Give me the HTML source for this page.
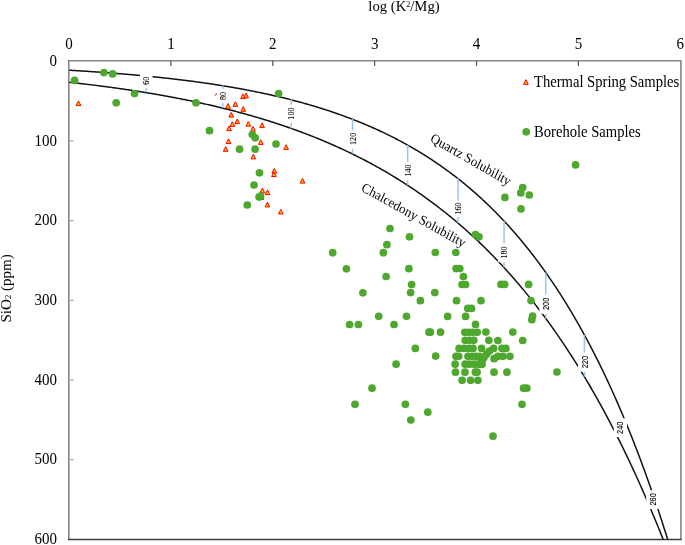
<!DOCTYPE html><html><head><meta charset="utf-8"><style>html,body{margin:0;padding:0;background:#fff;}svg{display:block;}text{font-family:"Liberation Serif",serif;fill:#000;}svg{will-change:transform;}</style></head><body>
<svg width="685" height="545" viewBox="0 0 685 545">
<rect width="685" height="545" fill="#fff"/>

<path d="M68.80,539.40V60.80H680.90V539.40" stroke="#858585" stroke-width="1.6" fill="none" stroke-linejoin="miter"/>
<path d="M68.00,539.40H681.70" stroke="#3c3c3c" stroke-width="1.5" fill="none"/>
<g stroke="#555" stroke-width="1.2" fill="none">
<path d="M170.88,60.80V66.00"/>
<path d="M272.76,60.80V66.00"/>
<path d="M374.64,60.80V66.00"/>
<path d="M476.52,60.80V66.00"/>
<path d="M578.40,60.80V66.00"/>
</g>
<g stroke="#a0a0a0" stroke-width="1.1" fill="none">
<path d="M68.80,140.90H73.60"/>
<path d="M68.80,220.60H73.60"/>
<path d="M68.80,300.30H73.60"/>
<path d="M68.80,380.00H73.60"/>
<path d="M68.80,459.70H73.60"/>
</g>
<g stroke="#111" stroke-width="1.5" fill="none">
<path d="M69.30,70.23 L70.32,70.29 L71.34,70.35 L72.36,70.41 L73.38,70.47 L74.39,70.53 L75.41,70.59 L76.43,70.65 L77.45,70.71 L78.47,70.78 L79.49,70.84 L80.51,70.90 L81.53,70.97 L82.54,71.03 L83.56,71.09 L84.58,71.16 L85.60,71.22 L86.62,71.29 L87.64,71.36 L88.66,71.42 L89.68,71.49 L90.69,71.56 L91.71,71.63 L92.73,71.70 L93.75,71.77 L94.77,71.84 L95.79,71.91 L96.81,71.98 L97.83,72.05 L98.85,72.12 L99.86,72.19 L100.88,72.26 L101.90,72.34 L102.92,72.41 L103.94,72.48 L104.96,72.56 L105.98,72.63 L107.00,72.71 L108.01,72.79 L109.03,72.86 L110.05,72.94 L111.07,73.02 L112.09,73.10 L113.11,73.18 L114.13,73.25 L115.15,73.33 L116.16,73.42 L117.18,73.50 L118.20,73.58 L119.22,73.66 L120.24,73.74 L121.26,73.83 L122.28,73.91 L123.30,73.99 L124.32,74.08 L125.33,74.16 L126.35,74.25 L127.37,74.34 L128.39,74.43 L129.41,74.51 L130.43,74.60 L131.45,74.69 L132.47,74.78 L133.48,74.87 L134.50,74.96 L135.52,75.05 L136.54,75.15 L137.56,75.24 L138.58,75.33 L139.60,75.43 L140.62,75.52 L141.63,75.62 L142.65,75.71 L143.67,75.81 L144.69,75.91 L145.71,76.01 L146.73,76.10 L147.75,76.20 L148.77,76.30 L149.79,76.40 L150.80,76.51 L151.82,76.61 L152.84,76.71 L153.86,76.81 L154.88,76.92 L155.90,77.02 L156.92,77.13 L157.94,77.24 L158.95,77.34 L159.97,77.45 L160.99,77.56 L162.01,77.67 L163.03,77.78 L164.05,77.89 L165.07,78.00 L166.09,78.12 L167.10,78.23 L168.12,78.34 L169.14,78.46 L170.16,78.57 L171.18,78.69 L172.20,78.81 L173.22,78.92 L174.24,79.04 L175.26,79.16 L176.27,79.28 L177.29,79.40 L178.31,79.53 L179.33,79.65 L180.35,79.77 L181.37,79.90 L182.39,80.02 L183.41,80.15 L184.42,80.28 L185.44,80.41 L186.46,80.53 L187.48,80.66 L188.50,80.80 L189.52,80.93 L190.54,81.06 L191.56,81.19 L192.57,81.33 L193.59,81.46 L194.61,81.60 L195.63,81.74 L196.65,81.87 L197.67,82.01 L198.69,82.15 L199.71,82.29 L200.73,82.44 L201.74,82.58 L202.76,82.72 L203.78,82.87 L204.80,83.01 L205.82,83.16 L206.84,83.31 L207.86,83.46 L208.88,83.61 L209.89,83.76 L210.91,83.91 L211.93,84.06 L212.95,84.22 L213.97,84.37 L214.99,84.53 L216.01,84.69 L217.03,84.84 L218.04,85.00 L219.06,85.16 L220.08,85.32 L221.10,85.49 L222.12,85.65 L223.14,85.82 L224.16,85.98 L225.18,86.15 L226.20,86.32 L227.21,86.49 L228.23,86.66 L229.25,86.83 L230.27,87.00 L231.29,87.18 L232.31,87.35 L233.33,87.53 L234.35,87.71 L235.36,87.89 L236.38,88.07 L237.40,88.25 L238.42,88.43 L239.44,88.61 L240.46,88.80 L241.48,88.99 L242.50,89.17 L243.51,89.36 L244.53,89.55 L245.55,89.75 L246.57,89.94 L247.59,90.13 L248.61,90.33 L249.63,90.53 L250.65,90.72 L251.67,90.92 L252.68,91.12 L253.70,91.33 L254.72,91.53 L255.74,91.74 L256.76,91.94 L257.78,92.15 L258.80,92.36 L259.82,92.57 L260.83,92.78 L261.85,93.00 L262.87,93.21 L263.89,93.43 L264.91,93.65 L265.93,93.87 L266.95,94.09 L267.97,94.31 L268.98,94.54 L270.00,94.76 L271.02,94.99 L272.04,95.22 L273.06,95.45 L274.08,95.68 L275.10,95.92 L276.12,96.15 L277.14,96.39 L278.15,96.63 L279.17,96.87 L280.19,97.11 L281.21,97.35 L282.23,97.60 L283.25,97.84 L284.27,98.09 L285.29,98.34 L286.30,98.59 L287.32,98.85 L288.34,99.10 L289.36,99.36 L290.38,99.62 L291.40,99.88 L292.42,100.14 L293.44,100.41 L294.45,100.67 L295.47,100.94 L296.49,101.21 L297.51,101.48 L298.53,101.76 L299.55,102.03 L300.57,102.31 L301.59,102.59 L302.61,102.87 L303.62,103.15 L304.64,103.44 L305.66,103.72 L306.68,104.01 L307.70,104.30 L308.72,104.60 L309.74,104.89 L310.76,105.19 L311.77,105.49 L312.79,105.79 L313.81,106.09 L314.83,106.40 L315.85,106.70 L316.87,107.01 L317.89,107.33 L318.91,107.64 L319.92,107.95 L320.94,108.27 L321.96,108.59 L322.98,108.91 L324.00,109.24 L325.02,109.57 L326.04,109.90 L327.06,110.23 L328.08,110.56 L329.09,110.90 L330.11,111.23 L331.13,111.57 L332.15,111.92 L333.17,112.26 L334.19,112.61 L335.21,112.96 L336.23,113.31 L337.24,113.67 L338.26,114.02 L339.28,114.38 L340.30,114.74 L341.32,115.11 L342.34,115.48 L343.36,115.85 L344.38,116.22 L345.39,116.59 L346.41,116.97 L347.43,117.35 L348.45,117.73 L349.47,118.12 L350.49,118.50 L351.51,118.89 L352.53,119.29 L353.55,119.68 L354.56,120.08 L355.58,120.48 L356.60,120.89 L357.62,121.29 L358.64,121.70 L359.66,122.11 L360.68,122.53 L361.70,122.95 L362.71,123.37 L363.73,123.79 L364.75,124.22 L365.77,124.65 L366.79,125.08 L367.81,125.51 L368.83,125.95 L369.85,126.39 L370.86,126.84 L371.88,127.29 L372.90,127.74 L373.92,128.19 L374.94,128.65 L375.96,129.11 L376.98,129.57 L378.00,130.04 L379.02,130.51 L380.03,130.98 L381.05,131.45 L382.07,131.93 L383.09,132.41 L384.11,132.90 L385.13,133.39 L386.15,133.88 L387.17,134.38 L388.18,134.88 L389.20,135.38 L390.22,135.89 L391.24,136.39 L392.26,136.91 L393.28,137.42 L394.30,137.94 L395.32,138.47 L396.33,138.99 L397.35,139.53 L398.37,140.06 L399.39,140.60 L400.41,141.14 L401.43,141.69 L402.45,142.23 L403.47,142.79 L404.49,143.34 L405.50,143.91 L406.52,144.47 L407.54,145.04 L408.56,145.61 L409.58,146.19 L410.60,146.77 L411.62,147.35 L412.64,147.94 L413.65,148.53 L414.67,149.13 L415.69,149.73 L416.71,150.33 L417.73,150.94 L418.75,151.55 L419.77,152.17 L420.79,152.79 L421.80,153.42 L422.82,154.05 L423.84,154.68 L424.86,155.32 L425.88,155.96 L426.90,156.61 L427.92,157.26 L428.94,157.92 L429.96,158.58 L430.97,159.24 L431.99,159.91 L433.01,160.59 L434.03,161.26 L435.05,161.95 L436.07,162.64 L437.09,163.33 L438.11,164.03 L439.12,164.73 L440.14,165.44 L441.16,166.15 L442.18,166.86 L443.20,167.59 L444.22,168.31 L445.24,169.05 L446.26,169.78 L447.27,170.52 L448.29,171.27 L449.31,172.02 L450.33,172.78 L451.35,173.54 L452.37,174.31 L453.39,175.08 L454.41,175.86 L455.43,176.65 L456.44,177.43 L457.46,178.23 L458.48,179.03 L459.50,179.83 L460.52,180.65 L461.54,181.46 L462.56,182.28 L463.58,183.11 L464.59,183.94 L465.61,184.78 L466.63,185.63 L467.65,186.48 L468.67,187.34 L469.69,188.20 L470.71,189.07 L471.73,189.94 L472.74,190.82 L473.76,191.71 L474.78,192.60 L475.80,193.50 L476.82,194.40 L477.84,195.31 L478.86,196.23 L479.88,197.15 L480.90,198.08 L481.91,199.02 L482.93,199.96 L483.95,200.91 L484.97,201.87 L485.99,202.83 L487.01,203.80 L488.03,204.77 L489.05,205.75 L490.06,206.74 L491.08,207.74 L492.10,208.74 L493.12,209.75 L494.14,210.76 L495.16,211.79 L496.18,212.82 L497.20,213.85 L498.21,214.90 L499.23,215.95 L500.25,217.01 L501.27,218.07 L502.29,219.15 L503.31,220.23 L504.33,221.32 L505.35,222.41 L506.37,223.51 L507.38,224.62 L508.40,225.74 L509.42,226.87 L510.44,228.00 L511.46,229.14 L512.48,230.29 L513.50,231.45 L514.52,232.61 L515.53,233.79 L516.55,234.97 L517.57,236.16 L518.59,237.35 L519.61,238.56 L520.63,239.77 L521.65,240.99 L522.67,242.22 L523.68,243.46 L524.70,244.71 L525.72,245.97 L526.74,247.23 L527.76,248.50 L528.78,249.79 L529.80,251.08 L530.82,252.38 L531.84,253.68 L532.85,255.00 L533.87,256.33 L534.89,257.66 L535.91,259.01 L536.93,260.36 L537.95,261.72 L538.97,263.10 L539.99,264.48 L541.00,265.87 L542.02,267.27 L543.04,268.68 L544.06,270.10 L545.08,271.53 L546.10,272.97 L547.12,274.42 L548.14,275.88 L549.15,277.35 L550.17,278.83 L551.19,280.32 L552.21,281.82 L553.23,283.33 L554.25,284.85 L555.27,286.38 L556.29,287.92 L557.31,289.47 L558.32,291.04 L559.34,292.61 L560.36,294.20 L561.38,295.79 L562.40,297.40 L563.42,299.01 L564.44,300.64 L565.46,302.28 L566.47,303.93 L567.49,305.59 L568.51,307.27 L569.53,308.95 L570.55,310.65 L571.57,312.36 L572.59,314.08 L573.61,315.81 L574.62,317.55 L575.64,319.31 L576.66,321.07 L577.68,322.85 L578.70,324.64 L579.72,326.45 L580.74,328.27 L581.76,330.09 L582.78,331.94 L583.79,333.79 L584.81,335.66 L585.83,337.54 L586.85,339.43 L587.87,341.33 L588.89,343.25 L589.91,345.18 L590.93,347.13 L591.94,349.09 L592.96,351.06 L593.98,353.04 L595.00,355.04 L596.02,357.05 L597.04,359.08 L598.06,361.12 L599.08,363.17 L600.09,365.24 L601.11,367.33 L602.13,369.42 L603.15,371.53 L604.17,373.66 L605.19,375.80 L606.21,377.95 L607.23,380.12 L608.25,382.31 L609.26,384.51 L610.28,386.72 L611.30,388.95 L612.32,391.20 L613.34,393.46 L614.36,395.73 L615.38,398.02 L616.40,400.33 L617.41,402.65 L618.43,404.99 L619.45,407.35 L620.47,409.72 L621.49,412.11 L622.51,414.51 L623.53,416.93 L624.55,419.37 L625.56,421.82 L626.58,424.29 L627.60,426.78 L628.62,429.28 L629.64,431.81 L630.66,434.34 L631.68,436.90 L632.70,439.47 L633.72,442.07 L634.73,444.67 L635.75,447.30 L636.77,449.95 L637.79,452.61 L638.81,455.29 L639.83,457.99 L640.85,460.71 L641.87,463.45 L642.88,466.20 L643.90,468.98 L644.92,471.77 L645.94,474.59 L646.96,477.42 L647.98,480.27 L649.00,483.14 L650.02,486.03 L651.03,488.94 L652.05,491.87 L653.07,494.82 L654.09,497.79 L655.11,500.79 L656.13,503.80 L657.15,506.83 L658.17,509.88 L659.19,512.96 L660.20,516.05 L661.22,519.17 L662.24,522.31 L663.26,525.47 L664.28,528.65 L665.30,531.85 L666.32,535.08 L667.34,538.32 L667.80,539.40"/>
<path d="M69.30,82.27 L70.32,82.38 L71.34,82.49 L72.36,82.60 L73.38,82.72 L74.39,82.83 L75.41,82.95 L76.43,83.06 L77.45,83.18 L78.47,83.29 L79.49,83.41 L80.51,83.53 L81.53,83.65 L82.54,83.77 L83.56,83.89 L84.58,84.01 L85.60,84.13 L86.62,84.25 L87.64,84.37 L88.66,84.49 L89.68,84.62 L90.69,84.74 L91.71,84.87 L92.73,84.99 L93.75,85.12 L94.77,85.25 L95.79,85.37 L96.81,85.50 L97.83,85.63 L98.85,85.76 L99.86,85.89 L100.88,86.02 L101.90,86.16 L102.92,86.29 L103.94,86.42 L104.96,86.56 L105.98,86.69 L107.00,86.83 L108.01,86.96 L109.03,87.10 L110.05,87.24 L111.07,87.38 L112.09,87.52 L113.11,87.66 L114.13,87.80 L115.15,87.94 L116.16,88.08 L117.18,88.22 L118.20,88.37 L119.22,88.51 L120.24,88.66 L121.26,88.80 L122.28,88.95 L123.30,89.10 L124.32,89.25 L125.33,89.40 L126.35,89.55 L127.37,89.70 L128.39,89.85 L129.41,90.00 L130.43,90.15 L131.45,90.31 L132.47,90.46 L133.48,90.62 L134.50,90.78 L135.52,90.93 L136.54,91.09 L137.56,91.25 L138.58,91.41 L139.60,91.57 L140.62,91.74 L141.63,91.90 L142.65,92.06 L143.67,92.23 L144.69,92.39 L145.71,92.56 L146.73,92.73 L147.75,92.89 L148.77,93.06 L149.79,93.23 L150.80,93.40 L151.82,93.58 L152.84,93.75 L153.86,93.92 L154.88,94.10 L155.90,94.27 L156.92,94.45 L157.94,94.63 L158.95,94.80 L159.97,94.98 L160.99,95.16 L162.01,95.35 L163.03,95.53 L164.05,95.71 L165.07,95.90 L166.09,96.08 L167.10,96.27 L168.12,96.45 L169.14,96.64 L170.16,96.83 L171.18,97.02 L172.20,97.21 L173.22,97.41 L174.24,97.60 L175.26,97.79 L176.27,97.99 L177.29,98.19 L178.31,98.38 L179.33,98.58 L180.35,98.78 L181.37,98.98 L182.39,99.19 L183.41,99.39 L184.42,99.59 L185.44,99.80 L186.46,100.00 L187.48,100.21 L188.50,100.42 L189.52,100.63 L190.54,100.84 L191.56,101.05 L192.57,101.27 L193.59,101.48 L194.61,101.70 L195.63,101.91 L196.65,102.13 L197.67,102.35 L198.69,102.57 L199.71,102.79 L200.73,103.01 L201.74,103.24 L202.76,103.46 L203.78,103.69 L204.80,103.92 L205.82,104.14 L206.84,104.37 L207.86,104.61 L208.88,104.84 L209.89,105.07 L210.91,105.31 L211.93,105.54 L212.95,105.78 L213.97,106.02 L214.99,106.26 L216.01,106.50 L217.03,106.74 L218.04,106.99 L219.06,107.23 L220.08,107.48 L221.10,107.73 L222.12,107.98 L223.14,108.23 L224.16,108.48 L225.18,108.73 L226.20,108.99 L227.21,109.24 L228.23,109.50 L229.25,109.76 L230.27,110.02 L231.29,110.28 L232.31,110.54 L233.33,110.81 L234.35,111.07 L235.36,111.34 L236.38,111.61 L237.40,111.88 L238.42,112.15 L239.44,112.42 L240.46,112.70 L241.48,112.97 L242.50,113.25 L243.51,113.53 L244.53,113.81 L245.55,114.09 L246.57,114.38 L247.59,114.66 L248.61,114.95 L249.63,115.24 L250.65,115.53 L251.67,115.82 L252.68,116.11 L253.70,116.41 L254.72,116.70 L255.74,117.00 L256.76,117.30 L257.78,117.60 L258.80,117.90 L259.82,118.21 L260.83,118.51 L261.85,118.82 L262.87,119.13 L263.89,119.44 L264.91,119.75 L265.93,120.07 L266.95,120.38 L267.97,120.70 L268.98,121.02 L270.00,121.34 L271.02,121.66 L272.04,121.99 L273.06,122.31 L274.08,122.64 L275.10,122.97 L276.12,123.30 L277.14,123.64 L278.15,123.97 L279.17,124.31 L280.19,124.65 L281.21,124.99 L282.23,125.33 L283.25,125.68 L284.27,126.02 L285.29,126.37 L286.30,126.72 L287.32,127.07 L288.34,127.43 L289.36,127.78 L290.38,128.14 L291.40,128.50 L292.42,128.86 L293.44,129.22 L294.45,129.59 L295.47,129.96 L296.49,130.33 L297.51,130.70 L298.53,131.07 L299.55,131.45 L300.57,131.82 L301.59,132.20 L302.61,132.58 L303.62,132.97 L304.64,133.35 L305.66,133.74 L306.68,134.13 L307.70,134.52 L308.72,134.92 L309.74,135.31 L310.76,135.71 L311.77,136.11 L312.79,136.51 L313.81,136.92 L314.83,137.33 L315.85,137.73 L316.87,138.15 L317.89,138.56 L318.91,138.98 L319.92,139.39 L320.94,139.81 L321.96,140.24 L322.98,140.66 L324.00,141.09 L325.02,141.52 L326.04,141.95 L327.06,142.38 L328.08,142.82 L329.09,143.26 L330.11,143.70 L331.13,144.14 L332.15,144.59 L333.17,145.04 L334.19,145.49 L335.21,145.94 L336.23,146.40 L337.24,146.86 L338.26,147.32 L339.28,147.78 L340.30,148.25 L341.32,148.71 L342.34,149.18 L343.36,149.66 L344.38,150.13 L345.39,150.61 L346.41,151.09 L347.43,151.58 L348.45,152.06 L349.47,152.55 L350.49,153.04 L351.51,153.54 L352.53,154.03 L353.55,154.53 L354.56,155.03 L355.58,155.54 L356.60,156.05 L357.62,156.56 L358.64,157.07 L359.66,157.59 L360.68,158.10 L361.70,158.63 L362.71,159.15 L363.73,159.68 L364.75,160.21 L365.77,160.74 L366.79,161.28 L367.81,161.81 L368.83,162.36 L369.85,162.90 L370.86,163.45 L371.88,164.00 L372.90,164.55 L373.92,165.11 L374.94,165.67 L375.96,166.23 L376.98,166.79 L378.00,167.36 L379.02,167.93 L380.03,168.51 L381.05,169.09 L382.07,169.67 L383.09,170.25 L384.11,170.84 L385.13,171.43 L386.15,172.02 L387.17,172.62 L388.18,173.22 L389.20,173.82 L390.22,174.43 L391.24,175.04 L392.26,175.65 L393.28,176.27 L394.30,176.88 L395.32,177.51 L396.33,178.13 L397.35,178.76 L398.37,179.40 L399.39,180.03 L400.41,180.67 L401.43,181.32 L402.45,181.96 L403.47,182.61 L404.49,183.27 L405.50,183.92 L406.52,184.59 L407.54,185.25 L408.56,185.92 L409.58,186.59 L410.60,187.26 L411.62,187.94 L412.64,188.63 L413.65,189.31 L414.67,190.00 L415.69,190.70 L416.71,191.39 L417.73,192.10 L418.75,192.80 L419.77,193.51 L420.79,194.22 L421.80,194.94 L422.82,195.66 L423.84,196.38 L424.86,197.11 L425.88,197.84 L426.90,198.58 L427.92,199.32 L428.94,200.06 L429.96,200.81 L430.97,201.56 L431.99,202.32 L433.01,203.08 L434.03,203.84 L435.05,204.61 L436.07,205.39 L437.09,206.16 L438.11,206.94 L439.12,207.73 L440.14,208.52 L441.16,209.31 L442.18,210.11 L443.20,210.91 L444.22,211.72 L445.24,212.53 L446.26,213.35 L447.27,214.17 L448.29,214.99 L449.31,215.82 L450.33,216.65 L451.35,217.49 L452.37,218.33 L453.39,219.18 L454.41,220.03 L455.43,220.89 L456.44,221.75 L457.46,222.61 L458.48,223.48 L459.50,224.36 L460.52,225.24 L461.54,226.12 L462.56,227.01 L463.58,227.90 L464.59,228.80 L465.61,229.71 L466.63,230.61 L467.65,231.53 L468.67,232.44 L469.69,233.37 L470.71,234.30 L471.73,235.23 L472.74,236.17 L473.76,237.11 L474.78,238.06 L475.80,239.01 L476.82,239.97 L477.84,240.93 L478.86,241.90 L479.88,242.88 L480.90,243.86 L481.91,244.84 L482.93,245.83 L483.95,246.83 L484.97,247.83 L485.99,248.83 L487.01,249.85 L488.03,250.86 L489.05,251.88 L490.06,252.91 L491.08,253.95 L492.10,254.99 L493.12,256.03 L494.14,257.08 L495.16,258.14 L496.18,259.20 L497.20,260.27 L498.21,261.34 L499.23,262.42 L500.25,263.50 L501.27,264.60 L502.29,265.69 L503.31,266.79 L504.33,267.90 L505.35,269.02 L506.37,270.14 L507.38,271.27 L508.40,272.40 L509.42,273.54 L510.44,274.68 L511.46,275.83 L512.48,276.99 L513.50,278.15 L514.52,279.32 L515.53,280.50 L516.55,281.68 L517.57,282.87 L518.59,284.07 L519.61,285.27 L520.63,286.48 L521.65,287.69 L522.67,288.92 L523.68,290.14 L524.70,291.38 L525.72,292.62 L526.74,293.87 L527.76,295.12 L528.78,296.38 L529.80,297.65 L530.82,298.93 L531.84,300.21 L532.85,301.50 L533.87,302.80 L534.89,304.10 L535.91,305.41 L536.93,306.73 L537.95,308.05 L538.97,309.38 L539.99,310.72 L541.00,312.07 L542.02,313.42 L543.04,314.78 L544.06,316.15 L545.08,317.52 L546.10,318.91 L547.12,320.30 L548.14,321.69 L549.15,323.10 L550.17,324.51 L551.19,325.93 L552.21,327.36 L553.23,328.80 L554.25,330.24 L555.27,331.69 L556.29,333.15 L557.31,334.62 L558.32,336.09 L559.34,337.58 L560.36,339.07 L561.38,340.57 L562.40,342.07 L563.42,343.59 L564.44,345.11 L565.46,346.65 L566.47,348.19 L567.49,349.73 L568.51,351.29 L569.53,352.86 L570.55,354.43 L571.57,356.01 L572.59,357.60 L573.61,359.20 L574.62,360.81 L575.64,362.43 L576.66,364.05 L577.68,365.69 L578.70,367.33 L579.72,368.98 L580.74,370.64 L581.76,372.31 L582.78,373.99 L583.79,375.68 L584.81,377.37 L585.83,379.08 L586.85,380.80 L587.87,382.52 L588.89,384.25 L589.91,386.00 L590.93,387.75 L591.94,389.51 L592.96,391.28 L593.98,393.07 L595.00,394.86 L596.02,396.66 L597.04,398.47 L598.06,400.29 L599.08,402.12 L600.09,403.96 L601.11,405.81 L602.13,407.67 L603.15,409.54 L604.17,411.42 L605.19,413.31 L606.21,415.21 L607.23,417.12 L608.25,419.04 L609.26,420.97 L610.28,422.91 L611.30,424.86 L612.32,426.82 L613.34,428.80 L614.36,430.78 L615.38,432.78 L616.40,434.78 L617.41,436.80 L618.43,438.83 L619.45,440.86 L620.47,442.91 L621.49,444.97 L622.51,447.04 L623.53,449.13 L624.55,451.22 L625.56,453.33 L626.58,455.44 L627.60,457.57 L628.62,459.71 L629.64,461.86 L630.66,464.02 L631.68,466.20 L632.70,468.38 L633.72,470.58 L634.73,472.79 L635.75,475.01 L636.77,477.25 L637.79,479.49 L638.81,481.75 L639.83,484.02 L640.85,486.30 L641.87,488.60 L642.88,490.90 L643.90,493.22 L644.92,495.56 L645.94,497.90 L646.96,500.26 L647.98,502.63 L649.00,505.01 L650.02,507.41 L651.03,509.81 L652.05,512.24 L653.07,514.67 L654.09,517.12 L655.11,519.58 L656.13,522.05 L657.15,524.54 L658.17,527.04 L659.19,529.56 L660.20,532.09 L661.22,534.63 L662.24,537.18 L663.26,539.75 L663.28,539.40"/>
</g>
<g stroke="#9dc3e6" stroke-width="1.5" fill="none">
<path d="M146.05,75.73V92.37"/>
<path d="M222.70,85.46V107.89"/>
<path d="M291.25,99.53V128.16"/>
<path d="M352.50,119.00V153.78"/>
<path d="M407.65,144.98V185.24"/>
<path d="M458.00,178.53V222.98"/>
<path d="M504.05,220.71V267.29"/>
<path d="M545.80,272.50V318.44"/>
<path d="M584.40,334.79V376.55"/>
</g>
<rect x="139.95" y="73.50" width="12.60" height="14.30" fill="#fff"/>
<text transform="translate(149.15,80.80) rotate(-90) scale(0.880,1)" font-size="9.20" text-anchor="middle" stroke="#000" stroke-width="0.12">60</text>
<rect x="216.60" y="88.80" width="12.60" height="14.30" fill="#fff"/>
<text transform="translate(225.80,95.95) rotate(-90) scale(0.880,1)" font-size="9.20" text-anchor="middle" stroke="#000" stroke-width="0.12">80</text>
<rect x="285.15" y="104.80" width="12.60" height="18.30" fill="#fff"/>
<text transform="translate(294.35,113.60) rotate(-90) scale(0.880,1)" font-size="9.20" text-anchor="middle" stroke="#000" stroke-width="0.12">100</text>
<rect x="346.40" y="130.50" width="12.60" height="18.40" fill="#fff"/>
<text transform="translate(355.60,138.90) rotate(-90) scale(0.880,1)" font-size="9.20" text-anchor="middle" stroke="#000" stroke-width="0.12">120</text>
<rect x="401.55" y="161.90" width="12.60" height="18.40" fill="#fff"/>
<text transform="translate(410.75,170.55) rotate(-90) scale(0.880,1)" font-size="9.20" text-anchor="middle" stroke="#000" stroke-width="0.12">140</text>
<rect x="451.90" y="200.50" width="12.60" height="16.60" fill="#fff"/>
<text transform="translate(461.10,208.55) rotate(-90) scale(0.880,1)" font-size="9.20" text-anchor="middle" stroke="#000" stroke-width="0.12">160</text>
<rect x="497.95" y="243.50" width="12.60" height="18.70" fill="#fff"/>
<text transform="translate(507.15,252.45) rotate(-90) scale(0.880,1)" font-size="9.20" text-anchor="middle" stroke="#000" stroke-width="0.12">180</text>
<rect x="539.40" y="294.65" width="13.20" height="19.10" fill="#fff"/>
<text transform="translate(549.00,303.85) rotate(-90) scale(0.860,1)" font-size="8.60" text-anchor="middle" stroke="#000" stroke-width="0.1" style="font-family:'Liberation Sans',sans-serif">200</text>
<rect x="578.00" y="352.60" width="13.20" height="19.10" fill="#fff"/>
<text transform="translate(587.60,362.15) rotate(-90) scale(0.860,1)" font-size="8.60" text-anchor="middle" stroke="#000" stroke-width="0.1" style="font-family:'Liberation Sans',sans-serif">220</text>
<rect x="613.80" y="418.30" width="13.20" height="18.70" fill="#fff"/>
<text transform="translate(623.40,427.75) rotate(-90) scale(0.860,1)" font-size="8.60" text-anchor="middle" stroke="#000" stroke-width="0.1" style="font-family:'Liberation Sans',sans-serif">240</text>
<rect x="646.20" y="490.30" width="13.20" height="18.70" fill="#fff"/>
<text transform="translate(656.20,499.40) rotate(-90) scale(0.860,1)" font-size="8.60" text-anchor="middle" stroke="#000" stroke-width="0.1" style="font-family:'Liberation Sans',sans-serif">260</text>
<text transform="translate(404.00,11.20) scale(1,1.000)" font-size="14.70" text-anchor="middle" >log (K<tspan font-size="8" dy="-4.6">2</tspan><tspan dy="4.6">/Mg)</tspan></text>
<text transform="translate(69.00,48.70) scale(1,1.070)" font-size="15.00" text-anchor="middle" >0</text>
<text transform="translate(170.88,48.70) scale(1,1.070)" font-size="15.00" text-anchor="middle" >1</text>
<text transform="translate(272.76,48.70) scale(1,1.070)" font-size="15.00" text-anchor="middle" >2</text>
<text transform="translate(374.64,48.70) scale(1,1.070)" font-size="15.00" text-anchor="middle" >3</text>
<text transform="translate(476.52,48.70) scale(1,1.070)" font-size="15.00" text-anchor="middle" >4</text>
<text transform="translate(578.40,48.70) scale(1,1.070)" font-size="15.00" text-anchor="middle" >5</text>
<text transform="translate(680.28,48.70) scale(1,1.070)" font-size="15.00" text-anchor="middle" >6</text>
<text transform="translate(56.90,65.80) scale(1,1.070)" font-size="15.00" text-anchor="end" >0</text>
<text transform="translate(56.90,145.50) scale(1,1.070)" font-size="15.00" text-anchor="end" >100</text>
<text transform="translate(56.90,225.20) scale(1,1.070)" font-size="15.00" text-anchor="end" >200</text>
<text transform="translate(56.90,304.90) scale(1,1.070)" font-size="15.00" text-anchor="end" >300</text>
<text transform="translate(56.90,384.60) scale(1,1.070)" font-size="15.00" text-anchor="end" >400</text>
<text transform="translate(56.90,464.30) scale(1,1.070)" font-size="15.00" text-anchor="end" >500</text>
<text transform="translate(56.90,544.00) scale(1,1.070)" font-size="15.00" text-anchor="end" >600</text>
<text transform="translate(10.80,288.40) scale(1,1.070) rotate(-90.00)" font-size="14.10" text-anchor="middle" >SiO<tspan font-size="8">2</tspan> (ppm)</text>
<text transform="translate(429.60,141.00) scale(1,1.070) rotate(28.20)" font-size="12.90" text-anchor="start" >Quartz Solubility</text>
<text transform="translate(360.60,190.40) scale(1,1.070) rotate(27.60)" font-size="12.90" text-anchor="start" >Chalcedony Solubility</text>
<text transform="translate(534.00,87.20) scale(1,1.070)" font-size="14.62" text-anchor="start" >Thermal Spring Samples</text>
<text transform="translate(534.00,136.60) scale(1,1.070)" font-size="14.62" text-anchor="start" >Borehole Samples</text>
<path d="M215.1,95.6L216.8,93.4" stroke="#ff5050" stroke-width="1.2"/>
<g fill="#ffc000" stroke="#ff0000" stroke-width="1.0" stroke-linejoin="miter">
<path d="M78.50,100.95L80.85,105.60L76.15,105.60Z"/>
<path d="M243.00,93.95L245.35,98.60L240.65,98.60Z"/>
<path d="M246.10,93.15L248.45,97.80L243.75,97.80Z"/>
<path d="M228.10,103.55L230.45,108.20L225.75,108.20Z"/>
<path d="M235.40,101.75L237.75,106.40L233.05,106.40Z"/>
<path d="M243.20,106.65L245.55,111.30L240.85,111.30Z"/>
<path d="M231.20,112.45L233.55,117.10L228.85,117.10Z"/>
<path d="M237.30,118.95L239.65,123.60L234.95,123.60Z"/>
<path d="M232.40,121.75L234.75,126.40L230.05,126.40Z"/>
<path d="M229.00,125.95L231.35,130.60L226.65,130.60Z"/>
<path d="M248.30,121.55L250.65,126.20L245.95,126.20Z"/>
<path d="M262.10,122.95L264.45,127.60L259.75,127.60Z"/>
<path d="M253.00,126.55L255.35,131.20L250.65,131.20Z"/>
<path d="M228.50,138.85L230.85,143.50L226.15,143.50Z"/>
<path d="M260.80,139.75L263.15,144.40L258.45,144.40Z"/>
<path d="M286.10,144.75L288.45,149.40L283.75,149.40Z"/>
<path d="M225.70,146.65L228.05,151.30L223.35,151.30Z"/>
<path d="M253.30,154.25L255.65,158.90L250.95,158.90Z"/>
<path d="M274.30,168.45L276.65,173.10L271.95,173.10Z"/>
<path d="M273.90,171.85L276.25,176.50L271.55,176.50Z"/>
<path d="M302.50,178.45L304.85,183.10L300.15,183.10Z"/>
<path d="M262.40,188.15L264.75,192.80L260.05,192.80Z"/>
<path d="M267.50,189.95L269.85,194.60L265.15,194.60Z"/>
<path d="M261.40,194.85L263.75,199.50L259.05,199.50Z"/>
<path d="M267.40,202.25L269.75,206.90L265.05,206.90Z"/>
<path d="M280.80,209.35L283.15,214.00L278.45,214.00Z"/>
</g>
<g fill="#4ea72e">
<circle cx="74.6" cy="80.4" r="3.85"/>
<circle cx="103.9" cy="72.6" r="3.85"/>
<circle cx="112.6" cy="73.9" r="3.85"/>
<circle cx="134.5" cy="93.6" r="3.85"/>
<circle cx="116.2" cy="102.8" r="3.85"/>
<circle cx="196.0" cy="102.8" r="3.85"/>
<circle cx="209.5" cy="130.7" r="3.85"/>
<circle cx="278.6" cy="93.6" r="3.85"/>
<circle cx="252.3" cy="134.5" r="3.85"/>
<circle cx="255.2" cy="137.8" r="3.85"/>
<circle cx="276.0" cy="144.0" r="3.85"/>
<circle cx="239.6" cy="149.2" r="3.85"/>
<circle cx="255.1" cy="149.2" r="3.85"/>
<circle cx="259.5" cy="172.8" r="3.85"/>
<circle cx="254.0" cy="185.0" r="3.85"/>
<circle cx="259.1" cy="197.1" r="3.85"/>
<circle cx="260.5" cy="196.2" r="3.85"/>
<circle cx="247.3" cy="205.0" r="3.85"/>
<circle cx="390.0" cy="228.5" r="3.85"/>
<circle cx="409.5" cy="236.8" r="3.85"/>
<circle cx="386.9" cy="244.7" r="3.85"/>
<circle cx="332.7" cy="252.7" r="3.85"/>
<circle cx="383.3" cy="252.7" r="3.85"/>
<circle cx="346.4" cy="268.8" r="3.85"/>
<circle cx="408.9" cy="268.7" r="3.85"/>
<circle cx="386.1" cy="276.5" r="3.85"/>
<circle cx="411.6" cy="284.5" r="3.85"/>
<circle cx="362.9" cy="292.8" r="3.85"/>
<circle cx="410.6" cy="292.6" r="3.85"/>
<circle cx="378.7" cy="316.3" r="3.85"/>
<circle cx="406.5" cy="316.3" r="3.85"/>
<circle cx="349.6" cy="324.5" r="3.85"/>
<circle cx="358.4" cy="324.5" r="3.85"/>
<circle cx="394.0" cy="324.5" r="3.85"/>
<circle cx="435.3" cy="252.5" r="3.85"/>
<circle cx="455.8" cy="252.5" r="3.85"/>
<circle cx="475.5" cy="234.5" r="3.85"/>
<circle cx="479.0" cy="236.8" r="3.85"/>
<circle cx="504.9" cy="197.4" r="3.85"/>
<circle cx="522.7" cy="187.6" r="3.85"/>
<circle cx="520.8" cy="192.9" r="3.85"/>
<circle cx="529.3" cy="195.0" r="3.85"/>
<circle cx="521.0" cy="208.9" r="3.85"/>
<circle cx="575.6" cy="164.9" r="3.85"/>
<circle cx="456.1" cy="268.6" r="3.85"/>
<circle cx="459.8" cy="268.6" r="3.85"/>
<circle cx="463.4" cy="276.6" r="3.85"/>
<circle cx="462.0" cy="284.5" r="3.85"/>
<circle cx="465.6" cy="284.5" r="3.85"/>
<circle cx="434.8" cy="292.6" r="3.85"/>
<circle cx="420.4" cy="300.7" r="3.85"/>
<circle cx="456.5" cy="300.7" r="3.85"/>
<circle cx="481.0" cy="300.7" r="3.85"/>
<circle cx="467.8" cy="308.4" r="3.85"/>
<circle cx="471.5" cy="308.4" r="3.85"/>
<circle cx="447.6" cy="316.4" r="3.85"/>
<circle cx="465.6" cy="316.4" r="3.85"/>
<circle cx="475.5" cy="324.4" r="3.85"/>
<circle cx="501.0" cy="284.4" r="3.85"/>
<circle cx="504.6" cy="284.4" r="3.85"/>
<circle cx="528.6" cy="284.4" r="3.85"/>
<circle cx="531.0" cy="300.6" r="3.85"/>
<circle cx="532.6" cy="316.0" r="3.85"/>
<circle cx="531.8" cy="319.7" r="3.85"/>
<circle cx="485.9" cy="332.1" r="3.85"/>
<circle cx="512.8" cy="332.1" r="3.85"/>
<circle cx="488.8" cy="340.3" r="3.85"/>
<circle cx="497.9" cy="340.6" r="3.85"/>
<circle cx="522.7" cy="340.5" r="3.85"/>
<circle cx="429.0" cy="332.2" r="3.85"/>
<circle cx="430.3" cy="332.2" r="3.85"/>
<circle cx="440.5" cy="332.2" r="3.85"/>
<circle cx="415.3" cy="348.4" r="3.85"/>
<circle cx="435.7" cy="356.1" r="3.85"/>
<circle cx="396.1" cy="364.2" r="3.85"/>
<circle cx="556.9" cy="372.0" r="3.85"/>
<circle cx="523.6" cy="388.2" r="3.85"/>
<circle cx="526.8" cy="388.2" r="3.85"/>
<circle cx="522.0" cy="404.3" r="3.85"/>
<circle cx="372.0" cy="388.2" r="3.85"/>
<circle cx="355.0" cy="404.3" r="3.85"/>
<circle cx="405.4" cy="404.3" r="3.85"/>
<circle cx="427.8" cy="412.2" r="3.85"/>
<circle cx="410.8" cy="420.0" r="3.85"/>
<circle cx="493.0" cy="436.2" r="3.85"/>
<circle cx="464.8" cy="332.3" r="3.85"/>
<circle cx="468.6" cy="332.3" r="3.85"/>
<circle cx="472.8" cy="332.3" r="3.85"/>
<circle cx="477.2" cy="332.3" r="3.85"/>
<circle cx="465.2" cy="340.3" r="3.85"/>
<circle cx="469.5" cy="340.3" r="3.85"/>
<circle cx="473.8" cy="340.3" r="3.85"/>
<circle cx="459.1" cy="348.4" r="3.85"/>
<circle cx="464.0" cy="348.4" r="3.85"/>
<circle cx="468.5" cy="348.4" r="3.85"/>
<circle cx="473.0" cy="348.4" r="3.85"/>
<circle cx="481.6" cy="348.4" r="3.85"/>
<circle cx="493.6" cy="348.4" r="3.85"/>
<circle cx="502.0" cy="348.4" r="3.85"/>
<circle cx="505.9" cy="348.4" r="3.85"/>
<circle cx="456.0" cy="356.3" r="3.85"/>
<circle cx="458.7" cy="356.3" r="3.85"/>
<circle cx="468.0" cy="356.3" r="3.85"/>
<circle cx="472.0" cy="356.3" r="3.85"/>
<circle cx="476.0" cy="356.3" r="3.85"/>
<circle cx="479.5" cy="356.3" r="3.85"/>
<circle cx="498.0" cy="356.3" r="3.85"/>
<circle cx="502.9" cy="356.3" r="3.85"/>
<circle cx="509.9" cy="356.3" r="3.85"/>
<circle cx="455.1" cy="364.2" r="3.85"/>
<circle cx="465.2" cy="364.2" r="3.85"/>
<circle cx="469.5" cy="364.2" r="3.85"/>
<circle cx="474.0" cy="364.2" r="3.85"/>
<circle cx="478.0" cy="364.2" r="3.85"/>
<circle cx="482.0" cy="364.2" r="3.85"/>
<circle cx="455.5" cy="372.2" r="3.85"/>
<circle cx="465.0" cy="372.2" r="3.85"/>
<circle cx="475.4" cy="372.2" r="3.85"/>
<circle cx="477.0" cy="372.2" r="3.85"/>
<circle cx="494.0" cy="372.2" r="3.85"/>
<circle cx="506.9" cy="372.2" r="3.85"/>
<circle cx="462.1" cy="380.3" r="3.85"/>
<circle cx="470.6" cy="380.3" r="3.85"/>
<circle cx="477.9" cy="380.3" r="3.85"/>
<circle cx="489.5" cy="351.0" r="3.85"/>
<circle cx="486.5" cy="354.3" r="3.85"/>
<circle cx="484.0" cy="357.6" r="3.85"/>
<circle cx="482.0" cy="361.0" r="3.85"/>
<circle cx="480.5" cy="364.5" r="3.85"/>
<circle cx="494.1" cy="358.7" r="3.85"/>
</g>
<g fill="#ffc000" stroke="#ff0000" stroke-width="1.0"><path d="M525.90,79.65L528.25,84.30L523.55,84.30Z"/></g>
<circle cx="526.2" cy="131.8" r="3.85" fill="#4ea72e"/>
</svg></body></html>
